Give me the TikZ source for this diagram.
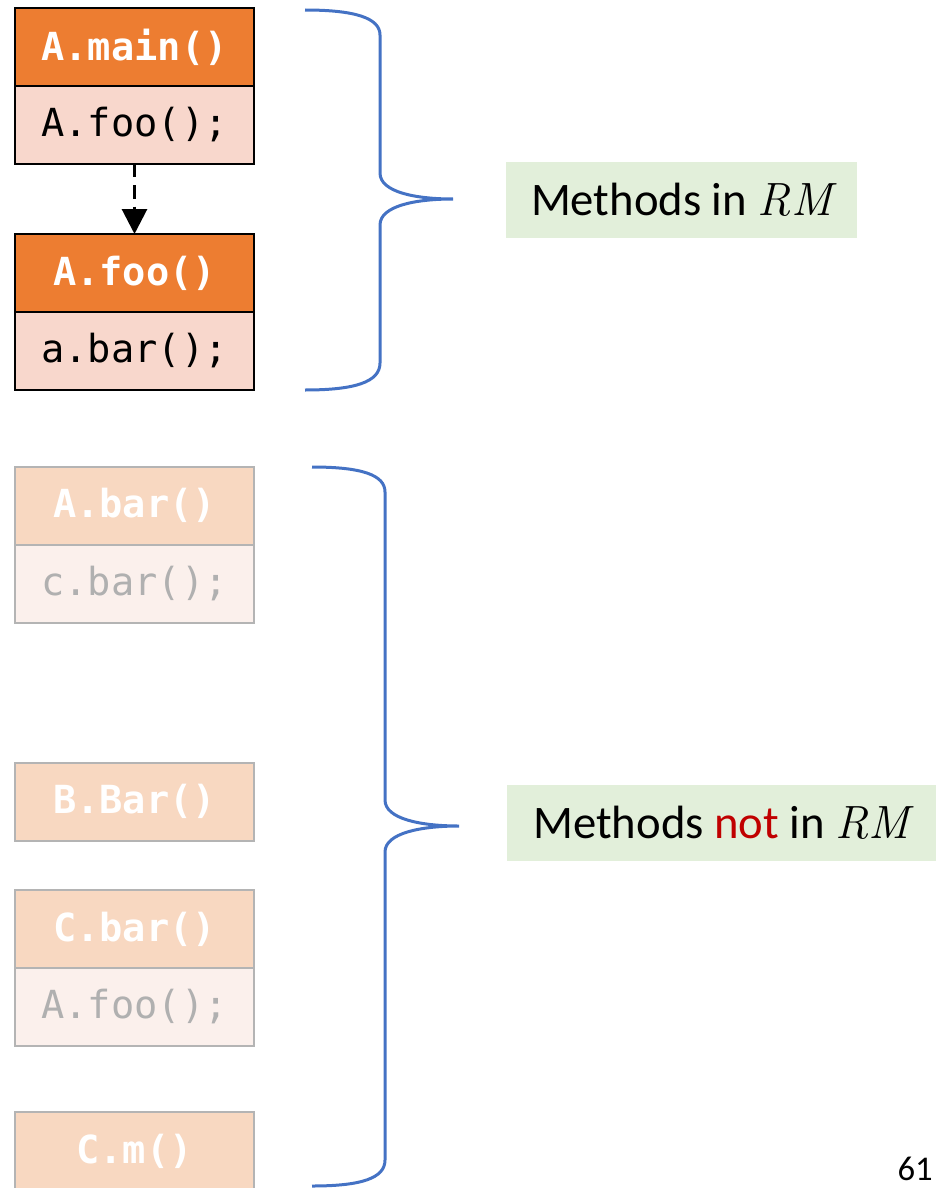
\documentclass[tikz,border=0pt]{standalone}
\usepackage{fontspec}
\setmainfont{Carlito}
\setmonofont{DejaVu Sans Mono}
\newfontfamily\setfont{Latin Modern Roman}
\usetikzlibrary{positioning,arrows.meta}
\definecolor{hdrorange}{HTML}{ED7D31}
\definecolor{bdypink}{HTML}{F8D7CC}
\definecolor{fadehdr}{HTML}{F8D8C1}
\definecolor{fadebdy}{HTML}{FBF0EC}
\definecolor{fadeline}{HTML}{B4B4B4}
\definecolor{fadetext}{HTML}{B0B0B0}
\definecolor{notegreen}{HTML}{E2EFDA}
\definecolor{braceblue}{HTML}{4472C4}
\definecolor{notred}{HTML}{C00000}
\newcommand{\RMset}{{\setfont\itshape RM}}
\begin{document}
\begin{tikzpicture}[x=0.75pt,y=-0.75pt,>={Triangle[width=18.75pt,length=18.75pt]},
		box/.style={rectangle,minimum width=179.25pt,minimum height=58.5pt,inner sep=0pt,outer sep=0pt,font=\ttfamily\fontsize{29}{29}\selectfont},
		hothdr/.style={box,draw=black,line width=1.5pt,fill=hdrorange,text=white,font=\ttfamily\bfseries\fontsize{29}{29}\selectfont},
		hotbdy/.style={box,draw=black,line width=1.5pt,fill=bdypink},
		coldhdr/.style={box,draw=fadeline,line width=1.5pt,fill=fadehdr,text=white,font=\ttfamily\bfseries\fontsize{29}{29}\selectfont},
		coldbdy/.style={box,draw=fadeline,line width=1.5pt,fill=fadebdy,text=fadetext},
		note/.style={rectangle,fill=notegreen,inner sep=0pt,minimum height=57.5pt,font=\fontsize{35}{35}\selectfont},
		brace/.style={draw=braceblue,line width=2.25pt}]
	\useasboundingbox (0,0) rectangle (936,1188);
	% methods reached from main
	\node [hothdr] (amain) at (134.5,47) {A.main()};
	\node [hotbdy,below=0pt of amain] (amainbd) {A.foo();};
	\node [hothdr] (afoo) at (134.5,273) {A.foo()};
	\node [hotbdy,below=0pt of afoo] (afoobd) {a.bar();};
	\draw [->,line width=2.25pt,dash pattern=on 10pt off 6pt] (amainbd.south) -- (afoo.north);
	% methods never reached
	\node [coldhdr] (abar) at (134.5,505.5) {A.bar()};
	\node [coldbdy,below=0pt of abar] (abarbd) {c.bar();};
	\node [coldhdr] (bbar) at (134.5,801.5) {B.Bar()};
	\node [coldhdr] (cbar) at (134.5,929) {C.bar()};
	\node [coldbdy,below=0pt of cbar] (cbarbd) {A.foo();};
	\node [coldhdr] (cm) at (134.5,1151) {C.m()};
	% braces
	\draw [brace] (305,10) .. controls (355,10) and (380,18) .. (380,35) -- (380,173)
		.. controls (380,192) and (415,199) .. (453,199) coordinate (intip)
		.. controls (415,199) and (380,206) .. (380,225) -- (380,363)
		.. controls (380,382) and (355,390) .. (305,390);
	\draw [brace] (312,467) .. controls (362,467) and (385,475) .. (385,492) -- (385,800)
		.. controls (385,819) and (421,826) .. (459,826) coordinate (outtip)
		.. controls (421,826) and (385,833) .. (385,852) -- (385,1160)
		.. controls (385,1178) and (362,1186) .. (312,1186);
	\node [note,minimum width=263.25pt] (inrm) at (681.5,200) {Methods in \RMset};
	\node [note,minimum width=321.75pt] (notrm) at (721.5,823) {Methods \textcolor{notred}{not} in \RMset};
	\node [anchor=base east,inner sep=0pt,font=\fontsize{26}{26}\selectfont] (pagenum) at (933,1180) {61};
\end{tikzpicture}
\end{document}
